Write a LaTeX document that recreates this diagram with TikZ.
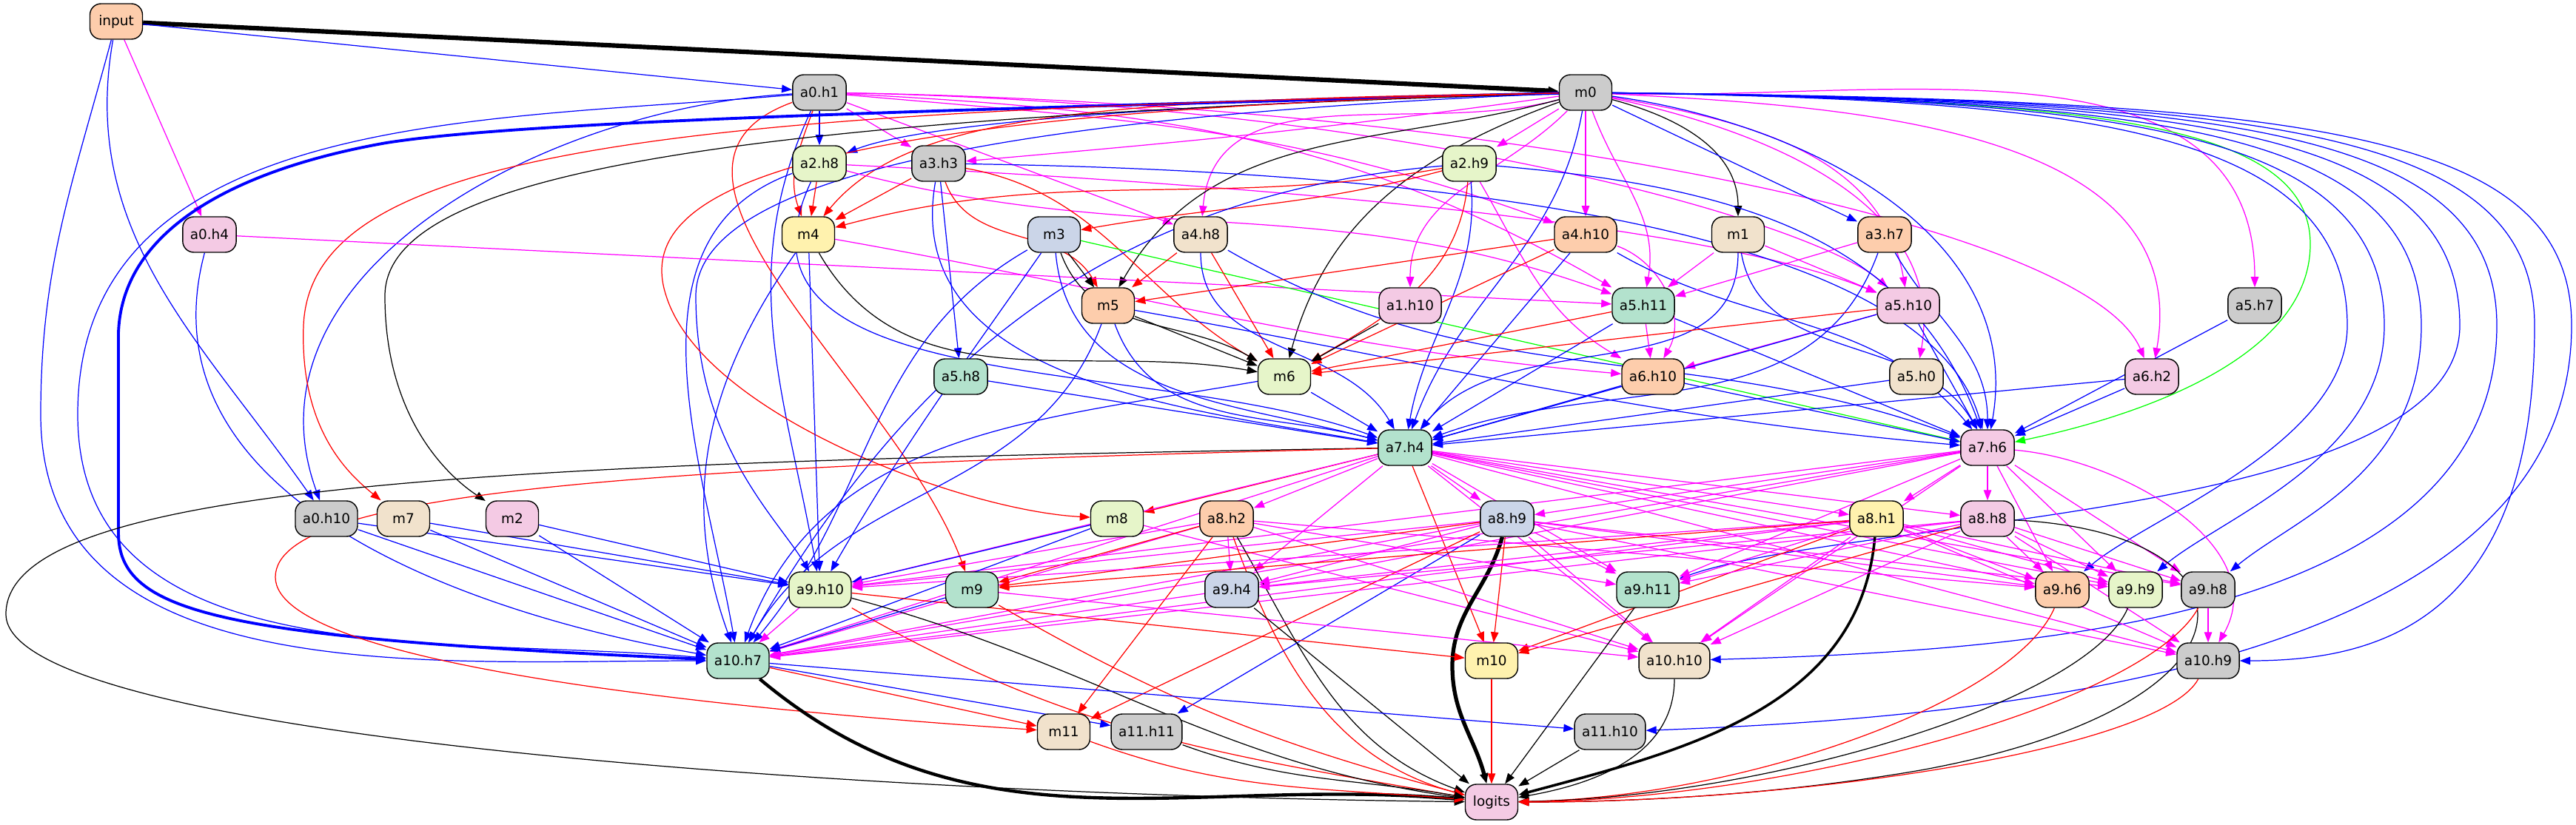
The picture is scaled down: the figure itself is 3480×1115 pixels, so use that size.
\documentclass[tikz,border=0pt]{standalone}
\usepackage{fontspec}
\setmainfont{DejaVu Sans}
\usetikzlibrary{arrows.meta,backgrounds}
\definecolor{cgrey}{HTML}{CCCCCC}
\definecolor{cgreen}{HTML}{B3E2CD}
\definecolor{corange}{HTML}{FDCDAC}
\definecolor{cblue}{HTML}{CBD5E8}
\definecolor{cpink}{HTML}{F4CAE4}
\definecolor{clime}{HTML}{E6F5C9}
\definecolor{cyellow}{HTML}{FFF2AE}
\definecolor{cbeige}{HTML}{F1E2CC}
\definecolor{lblue}{RGB}{0,0,255}
\definecolor{lred}{RGB}{255,0,0}
\definecolor{lmag}{RGB}{255,0,255}
\definecolor{lgreen}{RGB}{0,255,0}

\begin{document}
\begin{tikzpicture}[x=0.02cm, y=-0.02cm, >={Triangle[length=8pt,width=6pt]},
  box/.style={draw, rounded corners=0.3cm, minimum width=1.42cm, minimum height=0.96cm, inner xsep=0.2cm, font=\fontsize{10.5}{12}\selectfont, line width=0.8pt},
  eb/.style={->, draw=lblue, line width=0.7pt},
  er/.style={->, draw=lred, line width=0.7pt},
  em/.style={->, draw=lmag, line width=0.7pt},
  ek/.style={->, draw=black, line width=0.7pt},
  eg/.style={->, draw=lgreen, line width=0.7pt}]
\useasboundingbox (0,0) rectangle (3480,1115);
\node (input) at (157,29) [box, fill=corange] {input};
\node (a0h1) at (1107,125) [box, fill=cgrey] {a0.h1};
\node (m0) at (2142,125) [box, fill=cgrey] {m0};
\node (a2h8) at (1107,221) [box, fill=clime] {a2.h8};
\node (a3h3) at (1268,221) [box, fill=cgrey] {a3.h3};
\node (a2h9) at (1985,221) [box, fill=clime] {a2.h9};
\node (a0h4) at (283,317) [box, fill=cpink] {a0.h4};
\node (m4) at (1092,317) [box, fill=cyellow] {m4};
\node (m3) at (1424,317) [box, fill=cblue] {m3};
\node (a4h8) at (1622,317) [box, fill=cbeige] {a4.h8};
\node (a4h10) at (2142,317) [box, fill=corange] {a4.h10};
\node (m1) at (2348,317) [box, fill=cbeige] {m1};
\node (a3h7) at (2546,317) [box, fill=corange] {a3.h7};
\node (m5) at (1497,413) [box, fill=corange] {m5};
\node (a1h10) at (1905,413) [box, fill=cpink] {a1.h10};
\node (a5h11) at (2220,413) [box, fill=cgreen] {a5.h11};
\node (a5h10) at (2578,413) [box, fill=cpink] {a5.h10};
\node (a5h7) at (3046,413) [box, fill=cgrey] {a5.h7};
\node (a5h8) at (1298,509) [box, fill=cgreen] {a5.h8};
\node (m6) at (1735,509) [box, fill=clime] {m6};
\node (a6h10) at (2233,509) [box, fill=corange] {a6.h10};
\node (a5h0) at (2589,509) [box, fill=cbeige] {a5.h0};
\node (a6h2) at (2907,509) [box, fill=cpink] {a6.h2};
\node (a7h4) at (1898,605) [box, fill=cgreen] {a7.h4};
\node (a7h6) at (2685,605) [box, fill=cpink] {a7.h6};
\node (a0h10) at (441,701) [box, fill=cgrey] {a0.h10};
\node (m7) at (545,701) [box, fill=cbeige] {m7};
\node (m2) at (692,701) [box, fill=cpink] {m2};
\node (m8) at (1509,701) [box, fill=clime] {m8};
\node (a8h2) at (1657,701) [box, fill=corange] {a8.h2};
\node (a8h9) at (2036,701) [box, fill=cblue] {a8.h9};
\node (a8h1) at (2535,701) [box, fill=cyellow] {a8.h1};
\node (a8h8) at (2685,701) [box, fill=cpink] {a8.h8};
\node (a9h10) at (1108,797) [box, fill=clime] {a9.h10};
\node (m9) at (1313,797) [box, fill=cgreen] {m9};
\node (a9h4) at (1664,797) [box, fill=cblue] {a9.h4};
\node (a9h11) at (2226,797) [box, fill=cgreen] {a9.h11};
\node (a9h6) at (2786,797) [box, fill=corange] {a9.h6};
\node (a9h9) at (2885,797) [box, fill=clime] {a9.h9};
\node (a9h8) at (2983,797) [box, fill=cgrey] {a9.h8};
\node (a10h7) at (997,893) [box, fill=cgreen] {a10.h7};
\node (m10) at (2015,893) [box, fill=cyellow] {m10};
\node (a10h10) at (2262,893) [box, fill=cbeige] {a10.h10};
\node (a10h9) at (2983,893) [box, fill=cgrey] {a10.h9};
\node (m11) at (1437,989) [box, fill=cbeige] {m11};
\node (a11h11) at (1549,989) [box, fill=cgrey] {a11.h11};
\node (a11h10) at (2175,989) [box, fill=cgrey] {a11.h10};
\node (logits) at (2015,1084) [box, fill=cpink] {logits};

\begin{scope}[on background layer]
\draw[ek, line width=3.5pt] (input) -- (m0);
\draw[eb] (input) -- (a0h1);
\draw[em] (input) -- (a0h4);
\draw[eb] (input) to[out=-105,in=90] (55,560) to[out=-90,in=180] (a10h7);
\draw[eb] (input) to[out=-100,in=125] (a0h10);

\draw[eb] (a0h1) -- (a2h8);
\draw[em] (a0h1) -- (a3h3);
\draw[em] (a0h1) -- (a4h8);
\draw[er] (a0h1) to[out=-110,in=110] (m4);
\draw[em] (a0h1) to[out=-5,in=160] (a4h10);
\draw[em] (a0h1) to[out=-3,in=150] (a5h11);
\draw[em] (a0h1) .. controls (1900,140) and (2450,300) .. (a5h10);
\draw[em] (a0h1) .. controls (2000,140) and (2820,300) .. (a6h2);
\draw[eb] (a0h1) to[out=185,in=90] (105,560) to[out=-90,in=175] (a10h7);
\draw[eb] (a0h1) to[out=183,in=110] (a0h10);
\draw[eb] (a0h1) to[out=-115,in=100] (a9h10);
\draw[er] (a0h1) to[out=200,in=110] (m9);

\draw[eb] (m0) .. controls (1600,140) and (1250,165) .. (a2h8);
\draw[em] (m0) to[out=188,in=5] (a3h3);
\draw[er] (m0) .. controls (1500,135) and (1230,150) .. (m4);
\draw[em] (m0) -- (a2h9);
\draw[em] (m0) to[out=195,in=85] (a4h8);
\draw[em] (m0) -- (a4h10);
\draw[ek] (m0) to[out=-15,in=90] (m1);
\draw[eb] (m0) -- (a3h7);
\draw[em] (m0) to[out=225,in=90] (a1h10);
\draw[ek] (m0) to[out=200,in=75] (m6);
\draw[ek] (m0) to[out=195,in=60] (m5);
\draw[em] (m0) to[out=-70,in=80] (a5h11);
\draw[em] (m0) to[out=-10,in=100] (a5h10);
\draw[em] (m0) to[out=-12,in=80] (a5h0);
\draw[em] (m0) to[out=-3,in=80] (a6h2);
\draw[em] (m0) to[out=-2,in=90] (a5h7);
\draw[eb] (m0) to[out=-100,in=70] (a7h4);
\draw[eb] (m0) to[out=-8,in=80] (a7h6);
\draw[eg] (m0) .. controls (2800,135) and (3121,160) .. (3121,330) .. controls (3121,480) and (2900,560) .. (a7h6);
\draw[eb] (m0) .. controls (2800,135) and (3171,170) .. (3171,440) .. controls (3171,600) and (2900,700) .. (a9h6);
\draw[eb] (m0) .. controls (2850,135) and (3221,170) .. (3221,440) .. controls (3221,620) and (3000,700) .. (a9h9);
\draw[eb] (m0) .. controls (2900,135) and (3271,170) .. (3271,440) .. controls (3271,640) and (3100,700) .. (a9h8);
\draw[eb] (m0) .. controls (2950,135) and (3323,170) .. (3323,440) .. controls (3323,700) and (2500,700) .. (a9h11);
\draw[eb] (m0) .. controls (3000,135) and (3373,170) .. (3373,440) .. controls (3373,850) and (2700,880) .. (a10h10);
\draw[eb] (m0) .. controls (3050,135) and (3424,170) .. (3424,440) .. controls (3424,850) and (3200,893) .. (a10h9);
\draw[eb] (m0) .. controls (3100,135) and (3474,170) .. (3474,440) .. controls (3474,900) and (2700,970) .. (a11h10);
\draw[eb, line width=2.2pt] (m0) .. controls (1200,150) and (700,165) .. (522,193) .. controls (340,225) and (165,300) .. (160,450) -- (160,720) .. controls (160,830) and (300,862) .. (a10h7);
\draw[er] (m0) .. controls (900,150) and (420,200) .. (410,440) .. controls (405,580) and (470,640) .. (m7);
\draw[ek] (m0) .. controls (1000,160) and (520,230) .. (520,400) .. controls (520,560) and (600,640) .. (m2);
\draw[eb] (m0) .. controls (1300,160) and (940,250) .. (940,400) .. controls (940,600) and (1050,700) .. (a9h10);
\draw[er] (m0) .. controls (1100,150) and (850,250) .. (900,400) .. controls (950,560) and (1300,690) .. (m8);

\draw[er] (a2h8) -- (m4);
\draw[em] (a2h8) to[out=-15,in=160] (a5h11);
\draw[em] (a2h8) .. controls (1700,250) and (2300,300) .. (a5h10);
\draw[eb] (a2h8) to[out=-115,in=160] (a7h4);
\draw[eb] (a2h8) to[out=200,in=100] (a10h7);

\draw[er] (a3h3) -- (m4);
\draw[eb] (a3h3) -- (a5h8);
\draw[eb] (a3h3) to[out=-100,in=170] (a7h4);
\draw[er] (a3h3) to[out=-70,in=120] (m5);
\draw[er] (a3h3) to[out=-10,in=150] (m6);
\draw[eb] (a3h3) .. controls (1900,230) and (2600,300) .. (a7h6);

\draw[er] (a2h9) to[out=190,in=15] (m4);
\draw[er] (a2h9) to[out=195,in=10] (m3);
\draw[er] (a2h9) to[out=-95,in=30] (m6);
\draw[eb] (a2h9) to[out=-85,in=80] (a7h4);
\draw[eb] (a2h9) to[out=-5,in=110] (a7h6);
\draw[eb] (a2h9) to[out=185,in=60] (a10h7);
\draw[em] (a2h9) to[out=-60,in=150] (a6h10);

\draw[em] (a0h4) -- (a5h11);
\draw[eb] (a0h4) to[out=-105,in=170] (a10h7);

\draw[ek] (m4) to[out=-60,in=170] (m6);
\draw[em] (m4) to[out=-10,in=175] (a6h10);
\draw[eb] (m4) -- (a9h10);
\draw[eb] (m4) to[out=-125,in=110] (a10h7);

\draw[ek] (m3) -- (m5);
\draw[ek] (m3) to[out=-70,in=150] (m6);
\draw[eg] (m3) -- (a7h6);
\draw[eb] (m3) to[out=-85,in=165] (a7h4);
\draw[eb] (m3) to[out=-125,in=60] (a9h10);
\draw[eb] (m3) to[out=-150,in=50] (a10h7);

\draw[er] (a4h8) -- (m5);
\draw[er] (a4h8) -- (m6);
\draw[eb] (a4h8) to[out=-90,in=120] (a7h4);
\draw[eb] (a4h8) to[out=-30,in=160] (a7h6);

\draw[er] (a4h10) -- (m5);
\draw[er] (a4h10) -- (m6);
\draw[em] (a4h10) to[out=-20,in=60] (a6h10);
\draw[eb] (a4h10) -- (a7h4);
\draw[eb] (a4h10) to[out=-30,in=130] (a7h6);

\draw[em] (m1) -- (a5h11);
\draw[em] (m1) -- (a5h10);
\draw[eb] (m1) to[out=-90,in=50] (a7h4);
\draw[eb] (m1) to[out=-80,in=120] (a7h6);

\draw[em] (a3h7) -- (a5h11);
\draw[eb] (a3h7) to[out=-60,in=90] (a7h6);
\draw[eb] (a3h7) to[out=-110,in=20] (a7h4);

\draw[ek] (m5) -- (m6);
\draw[eb] (m5) to[out=-70,in=165] (a7h4);
\draw[eb] (m5) to[out=-10,in=175] (a7h6);
\draw[eb] (m5) to[out=-110,in=60] (a10h7);

\draw[ek] (a1h10) -- (m6);
\draw[er] (a5h11) -- (m6);
\draw[em] (a5h11) -- (a6h10);
\draw[eb] (a5h11) -- (a7h4);
\draw[eb] (a5h11) -- (a7h6);
\draw[er] (a5h10) -- (m6);
\draw[em] (a5h10) -- (a6h10);
\draw[eb] (a5h10) -- (a7h4);
\draw[eb] (a5h10) -- (a7h6);
\draw[eb] (a5h7) -- (a7h6);
\draw[eb] (a5h8) -- (a7h4);
\draw[eb] (m6) -- (a7h4);
\draw[eb] (m6) to[out=-170,in=70] (a10h7);
\draw[eb] (a6h10) -- (a7h4);
\draw[eb] (a6h10) -- (a7h6);
\draw[eb] (a5h0) -- (a7h4);
\draw[eb] (a6h2) -- (a7h6);
\draw[eb] (a6h2) -- (a7h4);

\draw[ek] (a7h4) .. controls (700,625) and (8,650) .. (8,830) .. controls (8,1000) and (1200,1075) .. (logits);
\draw[er] (a7h4) .. controls (900,630) and (372,660) .. (372,780) .. controls (372,900) and (1000,960) .. (m11);
\draw[er] (a7h4) -- (m8);
\draw[er] (a7h4) -- (m10);
\draw[em] (a7h4) -- (a8h2);
\draw[em] (a7h4) -- (a8h9);
\draw[em] (a7h4) -- (a8h1);
\draw[em] (a7h4) -- (a8h8);
\draw[em] (a7h4) -- (a9h10);
\draw[em] (a7h4) -- (a10h7);
\draw[em] (a7h4) -- (a9h4);
\draw[em] (a7h4) -- (a9h11);
\draw[em] (a7h4) -- (a9h6);
\draw[em] (a7h4) -- (a9h9);
\draw[em] (a7h4) -- (a9h8);
\draw[em] (a7h4) -- (a10h10);
\draw[em] (a7h4) -- (a10h9);

\draw[em] (a7h6) -- (a8h9);
\draw[em] (a7h6) -- (a8h1);
\draw[em] (a7h6) -- (a8h8);
\draw[em] (a7h6) -- (a9h10);
\draw[em] (a7h6) -- (a9h4);
\draw[em] (a7h6) -- (a9h11);
\draw[em] (a7h6) -- (a9h6);
\draw[em] (a7h6) -- (a9h9);
\draw[em] (a7h6) -- (a9h8);
\draw[em] (a7h6) -- (a10h10);
\draw[em] (a7h6) to[out=-5,in=60] (a10h9);
\draw[em] (a7h6) -- (a10h7);

\draw[eb] (a0h10) -- (a9h10);
\draw[eb] (a0h10) -- (a10h7);
\draw[eb] (m7) -- (a9h10);
\draw[eb] (m7) -- (a10h7);
\draw[eb] (m2) -- (a9h10);
\draw[eb] (m2) -- (a10h7);
\draw[eb] (m8) -- (a9h10);
\draw[eb] (m8) -- (a10h7);
\draw[em] (m8) -- (a10h10);

\draw[em] (a8h2) -- (a9h10);
\draw[em] (a8h2) -- (a9h4);
\draw[em] (a8h2) -- (a9h11);
\draw[em] (a8h2) -- (a9h6);
\draw[em] (a8h2) -- (a10h7);
\draw[em] (a8h2) -- (a10h10);
\draw[er] (a8h2) -- (m9);
\draw[er] (a8h2) -- (m11);
\draw[er] (a8h2) to[out=-70,in=165] (logits);
\draw[ek] (a8h2) to[out=-60,in=160] (logits);

\draw[em] (a8h9) -- (a9h10);
\draw[em] (a8h9) -- (a9h4);
\draw[em] (a8h9) -- (a9h11);
\draw[em] (a8h9) -- (a9h6);
\draw[em] (a8h9) -- (a9h9);
\draw[em] (a8h9) -- (a10h7);
\draw[em] (a8h9) -- (a10h10);
\draw[em] (a8h9) -- (a10h9);
\draw[er] (a8h9) -- (m9);
\draw[er] (a8h9) -- (m10);
\draw[er] (a8h9) -- (m11);
\draw[eb] (a8h9) -- (a11h11);
\draw[ek, line width=3pt] (a8h9) to[out=-105,in=90] (1962,900) to[out=-90,in=105] (logits);

\draw[em] (a8h1) -- (a9h10);
\draw[em] (a8h1) -- (a9h4);
\draw[em] (a8h1) -- (a9h11);
\draw[em] (a8h1) -- (a9h6);
\draw[em] (a8h1) -- (a9h9);
\draw[em] (a8h1) -- (a9h8);
\draw[em] (a8h1) -- (a10h7);
\draw[em] (a8h1) -- (a10h10);
\draw[em] (a8h1) -- (a10h9);
\draw[er] (a8h1) -- (m9);
\draw[er] (a8h1) -- (m10);
\draw[ek, line width=2pt] (a8h1) to[out=-95,in=15] (logits);

\draw[em] (a8h8) -- (a9h4);
\draw[em] (a8h8) -- (a9h11);
\draw[em] (a8h8) -- (a9h6);
\draw[em] (a8h8) -- (a9h9);
\draw[em] (a8h8) -- (a9h8);
\draw[em] (a8h8) -- (a10h7);
\draw[em] (a8h8) -- (a10h10);
\draw[em] (a8h8) -- (a10h9);
\draw[er] (a8h8) -- (m10);
\draw[ek] (a8h8) .. controls (3060,720) and (3080,950) .. (2600,1040) .. controls (2400,1075) and (2200,1084) .. (logits);

\draw[em] (a9h10) -- (a10h7);
\draw[er] (a9h10) -- (m10);
\draw[er] (a9h10) to[out=-30,in=170] (logits);
\draw[ek] (a9h10) to[out=-15,in=172] (logits);
\draw[eb] (m9) -- (a10h7);
\draw[em] (m9) -- (a10h10);
\draw[er] (m9) to[out=-30,in=165] (logits);
\draw[em] (a9h4) -- (a10h7);
\draw[ek] (a9h4) -- (logits);
\draw[ek] (a9h11) -- (logits);
\draw[er] (a9h6) .. controls (2720,950) and (2350,1078) .. (logits);
\draw[ek] (a9h9) .. controls (2820,950) and (2380,1078) .. (logits);
\draw[em] (a9h8) -- (a10h9);
\draw[er] (a9h8) .. controls (2900,950) and (2420,1080) .. (logits);

\draw[ek, line width=2.5pt] (a10h7) to[out=-40,in=175] (logits);
\draw[er] (a10h7) -- (m11);
\draw[eb] (a10h7) -- (a11h11);
\draw[eb] (a10h7) -- (a11h10);
\draw[er] (m10) -- (logits);
\draw[ek] (a10h10) to[out=-90,in=10] (logits);
\draw[er] (a10h9) .. controls (2920,1010) and (2450,1084) .. (logits);
\draw[er] (m11) to[out=-20,in=175] (logits);
\draw[ek] (a11h11) to[out=-20,in=170] (logits);
\draw[ek] (a11h10) -- (logits);
\end{scope}
\end{tikzpicture}
\end{document}
